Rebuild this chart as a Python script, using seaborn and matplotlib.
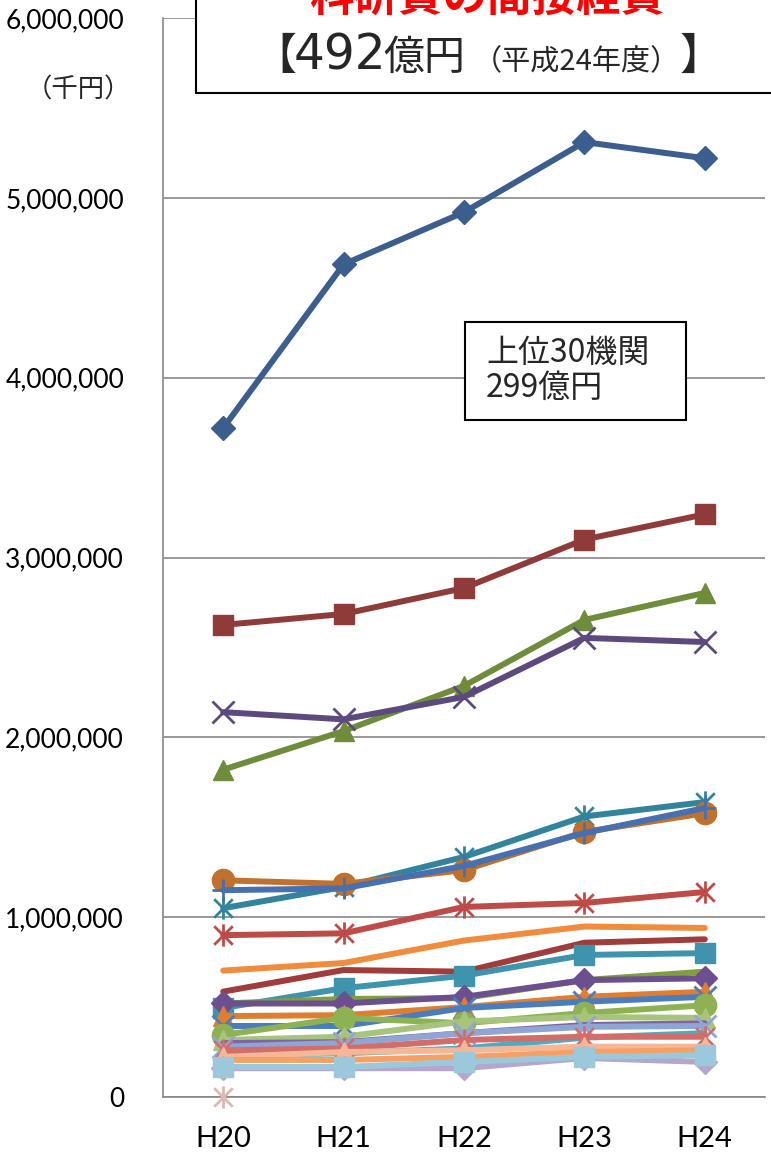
import numpy as np
import pandas as pd
import matplotlib
matplotlib.use("Agg")
import matplotlib.pyplot as plt
import seaborn as sns
from matplotlib.path import Path
from matplotlib.patches import Rectangle
from matplotlib.ticker import FuncFormatter, MultipleLocator, FixedLocator

# ---- data (千円) : top institutions, fiscal years H20-H24 ----
years = ["H20", "H21", "H22", "H23", "H24"]
inst = [f"機関{i:02d}" for i in range(1, 27)]

h20 = [3720000, 2625000, 1820000, 2140000, 1050000, 1205000, 1150000, 900000,
       703000, 586000, 495000, 520000, 520000, 450000, 395000, 345000,
       317000, 300000, 280000, 233000, 260000, 223000, 206000, 167000,
       160000, 0]
h21 = [4630000, 2686000, 2035000, 2100000, 1168000, 1185000, 1160000, 910000,
       745000, 706000, 605000, 545000, 520000, 455000, 395000, 440000,
       335000, 305000, 300000, 243000, 270000, 250000, 206000, 167000,
       160000, np.nan]
h22 = [4920000, 2830000, 2286000, 2225000, 1335000, 1262000, 1285000, 1057000,
       870000, 697000, 675000, 550000, 557000, 500000, 495000, 410000,
       420000, 355000, 355000, 270000, 317000, 260000, 223000, 195000,
       160000, np.nan]
h23 = [5310000, 3100000, 2653000, 2553000, 1560000, 1474000, 1468000, 1079000,
       948000, 858000, 790000, 650000, 650000, 557000, 530000, 467000,
       445000, 400000, 390000, 330000, 335000, 280000, 250000, 223000,
       217000, np.nan]
h24 = [5220000, 3240000, 2803000, 2530000, 1640000, 1578000, 1607000, 1140000,
       940000, 877000, 800000, 697000, 660000, 585000, 557000, 510000,
       440000, 410000, 395000, 355000, 335000, 280000, 260000, 233000,
       195000, np.nan]

# ---- styling per series ----
star = Path([(-1, -1), (1, 1), (-1, 1), (1, -1), (0, -1.2), (0, 1.2)],
            [Path.MOVETO, Path.LINETO, Path.MOVETO, Path.LINETO,
             Path.MOVETO, Path.LINETO])

colors = ["#3B5E8F", "#8E3B3A", "#6F8C3B", "#5C4A7F", "#31849B", "#C0712D",
          "#4670B0", "#BE4B48", "#F08C3C", "#A03C3A", "#3F93AD", "#7F9F3F",
          "#6C4F8E", "#E07D2E", "#4A7DBE", "#8EB253", "#A7C47A", "#7F65A3",
          "#8EA6D4", "#4BACC6", "#D26D6A", "#F6B796", "#F7A064", "#9BC8DA",
          "#B7A6CB", "#E0B6B5"]
markers = ["D", "s", "^", "x", star, "o",
           "+", star, None, None, "s", None,
           "D", "^", "x", "o", "^", None,
           "x", None, star, "^", None, "s",
           "D", star]
# stacking order: the light-blue squares sit above the lavender diamonds
layer = list(range(26))
layer[23], layer[24] = 24, 23
sizes = {"D": 12, "s": 15, "^": 15, "o": 16, "x": 16, "+": 16}

df = pd.DataFrame({
    "inst": np.repeat(inst, len(years)),
    "year": years * len(inst),
    "value": np.column_stack([h20, h21, h22, h23, h24]).ravel(),
})

W, H = 771, 1156
fig = plt.figure(figsize=(W / 100, H / 100), dpi=100)
sns.set_style("white")
plt.rcParams['font.family'] = ['Lato', 'Noto Sans CJK JP', 'DejaVu Sans']

ax = fig.add_axes([163 / W, (H - 1097) / H, (765 - 163) / W, (1097 - 18) / H])

for i, name in enumerate(inst):
    sub = df[df["inst"] == name].dropna()
    m = markers[i]
    kw = dict(color=colors[i], linewidth=4.3, ax=ax, estimator=None,
              sort=False, zorder=3 + layer[i], clip_on=False)
    if m is None:
        kw.update(marker=None)
    elif isinstance(m, Path):
        kw.update(marker=m, markersize=16, markerfacecolor="none",
                  markeredgecolor=colors[i], markeredgewidth=2.0)
    elif m in ("x", "+"):
        kw.update(marker=m, markersize=sizes[m], markeredgecolor=colors[i],
                  markeredgewidth=2.0)
    else:
        kw.update(marker=m, markersize=sizes[m], markerfacecolor=colors[i],
                  markeredgecolor=colors[i], markeredgewidth=1)
    sns.lineplot(data=sub, x="year", y="value", **kw)

grey = "#878787"
ax.set_xlim(-0.5, len(years) - 0.5)
ax.set_ylim(0, 6000000)
ax.yaxis.set_major_locator(MultipleLocator(1000000))
ax.yaxis.set_major_formatter(FuncFormatter(lambda v, p: f"{v:,.0f}"))
ax.yaxis.grid(True, color=grey, linewidth=1.2)
ax.xaxis.grid(False)
ax.set_axisbelow(True)
ax.set_xlabel("")
ax.set_ylabel("")
ax.set_xticks(range(len(years)))
ax.set_xticklabels(years)
ax.xaxis.set_minor_locator(FixedLocator(np.arange(-0.5, len(years), 1.0)))
ax.tick_params(axis="x", which="major", length=0, pad=21, labelsize=21,
               labelcolor="black")
ax.tick_params(axis="x", which="minor", length=6, width=1.2, color=grey,
               direction="out")
ax.tick_params(axis="y", which="major", length=6, width=1.2, color=grey,
               direction="out", pad=22, labelsize=19, labelcolor="black")
for s in ("top", "right"):
    ax.spines[s].set_visible(False)
for s in ("left", "bottom"):
    ax.spines[s].set_color(grey)
    ax.spines[s].set_linewidth(1.2)
ax.spines["bottom"].set_zorder(2)
if ax.get_legend() is not None:
    ax.get_legend().remove()

cjk = ["Noto Sans CJK JP", "DejaVu Sans"]


def fx(px):
    return px / W


def fy(py):
    return 1 - py / H


# unit label
fig.text(fx(78), fy(90), "（千円）", family=cjk, fontsize=19, ha="center",
         va="center")

# headline box
fig.patches.append(Rectangle((fx(196), fy(93)), 1.0, 0.2,
                             transform=fig.transFigure, facecolor="white",
                             edgecolor="black", linewidth=1.5, zorder=20,
                             clip_on=False))
fig.text(fx(487), fy(-2), "科研費の間接経費", family=cjk, fontsize=32,
         weight="bold", color="#FF0000", ha="center", va="center", zorder=21)
base = fy(70)
fig.text(fx(296), base, "【", family=cjk, fontsize=31,
         ha="right", va="baseline", zorder=21)
fig.text(fx(294), base, "492", family=["DejaVu Sans"], fontsize=35,
         ha="left", va="baseline", zorder=21)
fig.text(fx(383), base, "億円", family=cjk, fontsize=29.5,
         ha="left", va="baseline", zorder=21)
fig.text(fx(576), base, "（平成24年度）", family=cjk, fontsize=21,
         ha="center", va="baseline", zorder=21)
fig.text(fx(680), base, "】", family=cjk, fontsize=31,
         ha="left", va="baseline", zorder=21)

# top-30 box
fig.patches.append(Rectangle((fx(465), fy(420)), fx(686) - fx(465),
                             fy(322) - fy(420), transform=fig.transFigure,
                             facecolor="white", edgecolor="black",
                             linewidth=1.5, zorder=20, clip_on=False))
fig.text(fx(486), fy(353), "上位30機関", family=cjk, fontsize=23,
         ha="left", va="center", zorder=21)
fig.text(fx(486), fy(388), "299億円", family=cjk, fontsize=23,
         ha="left", va="center", zorder=21)

fig.savefig("out.png", dpi=100)
